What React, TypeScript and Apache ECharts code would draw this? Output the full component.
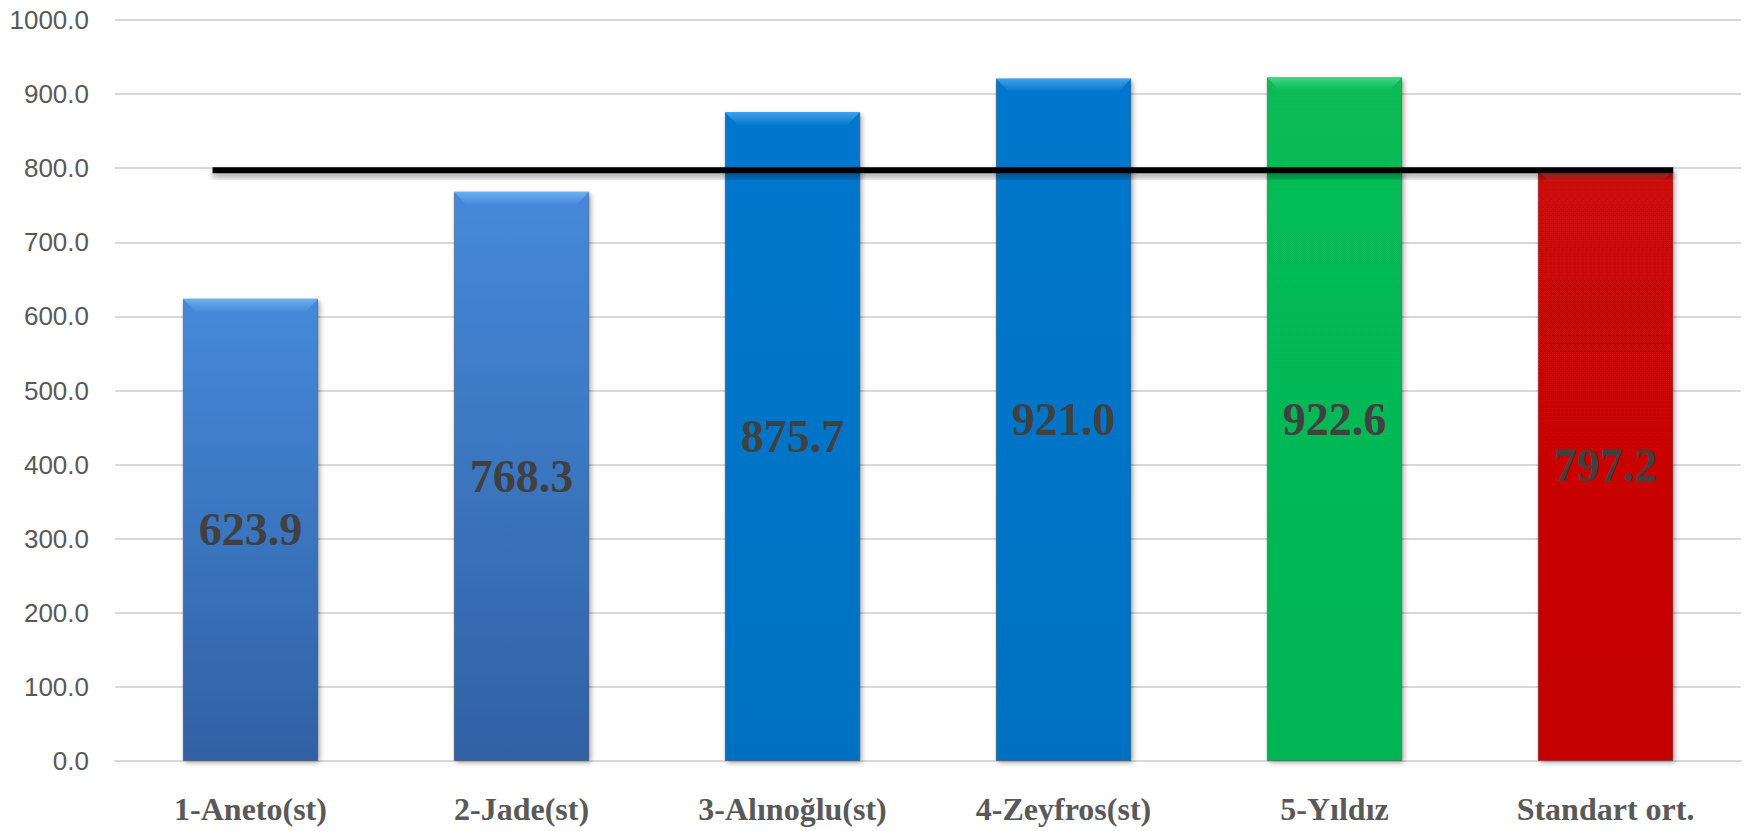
import React, { useEffect, useRef } from "react";
import * as echarts from "echarts";

const categories = ["1-Aneto(st)", "2-Jade(st)", "3-Alınoğlu(st)", "4-Zeyfros(st)", "5-Yıldız", "Standart ort."];
const values = [623.9, 768.3, 875.7, 921.0, 922.6, 797.2];
const barTopColors = ["#4589da", "#4589da", "#0677cc", "#0677cc", "#07bb57", "#cc0707"];
const barBottomColors = ["#3061a4", "#3061a4", "#0571c2", "#0571c2", "#05b553", "#c40505"];
const bevelColors = ["#6cb0f2", "#6cb0f2", "#3ea2ee", "#3ea2ee", "#3fd884", "#dd3a3a"];
const yTicks = [0, 100, 200, 300, 400, 500, 600, 700, 800, 900, 1000];
const avgValue = 797.2;
const avgLineSpan = [0.36, 5.75];

export default function App() {
  const ref = useRef<HTMLDivElement>(null);
  useEffect(() => {
    if (!ref.current) return;
    const chart = echarts.init(ref.current, null, { renderer: "svg" });
    const option: any = {
      animation: false,
      backgroundColor: "#ffffff",
      grid: { left: 115, right: 22, top: 20, bottom: 70, containLabel: false },
      xAxis: [
        {
          type: "category",
          data: categories,
          axisLine: { show: true, lineStyle: { color: "#d9d9d9", width: 2 } },
          axisTick: { show: false },
          axisLabel: {
            margin: 32,
            fontFamily: "Liberation Serif",
            fontWeight: "bold",
            fontSize: 32,
            color: "#595959",
          },
        },
        {
          type: "value",
          min: 0,
          max: categories.length,
          show: false,
        },
      ],
      yAxis: {
        type: "value",
        min: yTicks[0],
        max: yTicks[yTicks.length - 1],
        interval: 100,
        axisLine: { show: false },
        axisTick: { show: false },
        splitLine: { lineStyle: { color: "#d9d9d9", width: 2 } },
        axisLabel: {
          margin: 26,
          fontFamily: "Liberation Sans",
          fontSize: 26,
          color: "#595959",
          formatter: (v: number) => v.toFixed(1),
        },
      },
      series: [
        {
          type: "bar",
          barWidth: "50%",
          data: values.map((v, i) => ({
            value: v,
            itemStyle: {
              color: new echarts.graphic.LinearGradient(0, 0, 0, 1, [
                { offset: 0, color: barTopColors[i] },
                { offset: 1, color: barBottomColors[i] },
              ]),
              borderColor: "rgba(0,0,0,0.25)",
              borderWidth: 1,
              shadowColor: "rgba(0,0,0,0.35)",
              shadowBlur: 5,
              shadowOffsetX: 2,
              shadowOffsetY: 2,
            },
          })),
          label: {
            show: true,
            position: "inside",
            formatter: (p: any) => Number(p.value).toFixed(1),
            fontFamily: "Liberation Serif",
            fontWeight: "bold",
            fontSize: 46,
            color: "#404040",
          },
          z: 2,
        },
        {
          type: "custom",
          data: values.map((v, i) => [i, v]),
          encode: { x: 0, y: 1 },
          z: 3,
          silent: true,
          renderItem: (params: any, api: any) => {
            const i = api.value(0);
            const v = api.value(1);
            const top = api.coord([i, v]);
            const w = api.size([1, 0])[0] * 0.5;
            const b = 13;
            const x0 = top[0] - w / 2;
            const x1 = top[0] + w / 2;
            const y0 = top[1];
            return {
              type: "polygon",
              shape: {
                points: [
                  [x0, y0],
                  [x1, y0],
                  [x1 - b, y0 + b],
                  [x0 + b, y0 + b],
                ],
              },
              style: {
                fill: new echarts.graphic.LinearGradient(0, 0, 0, 1, [
                  { offset: 0, color: bevelColors[i] },
                  { offset: 1, color: barTopColors[i] },
                ]),
              },
            };
          },
        },
        {
          type: "custom",
          xAxisIndex: 1,
          data: [[avgLineSpan[0], avgLineSpan[1], avgValue]],
          encode: { x: [0, 1], y: 2 },
          z: 5,
          silent: true,
          renderItem: (params: any, api: any) => {
            const p0 = api.coord([api.value(0), api.value(2)]);
            const p1 = api.coord([api.value(1), api.value(2)]);
            const h = 6;
            return {
              type: "rect",
              shape: { x: p0[0], y: p0[1] - h / 2, width: p1[0] - p0[0], height: h },
              style: {
                fill: "#000000",
                shadowColor: "rgba(0,0,0,0.4)",
                shadowBlur: 6,
                shadowOffsetY: 4,
              },
            };
          },
        },
      ],
    };
    chart.setOption(option);
    return () => chart.dispose();
  }, []);
  return (
    <div
      ref={ref}
      style={{ position: "fixed", left: 0, top: 0, width: "1763px", height: "831px" }}
    />
  );
}
